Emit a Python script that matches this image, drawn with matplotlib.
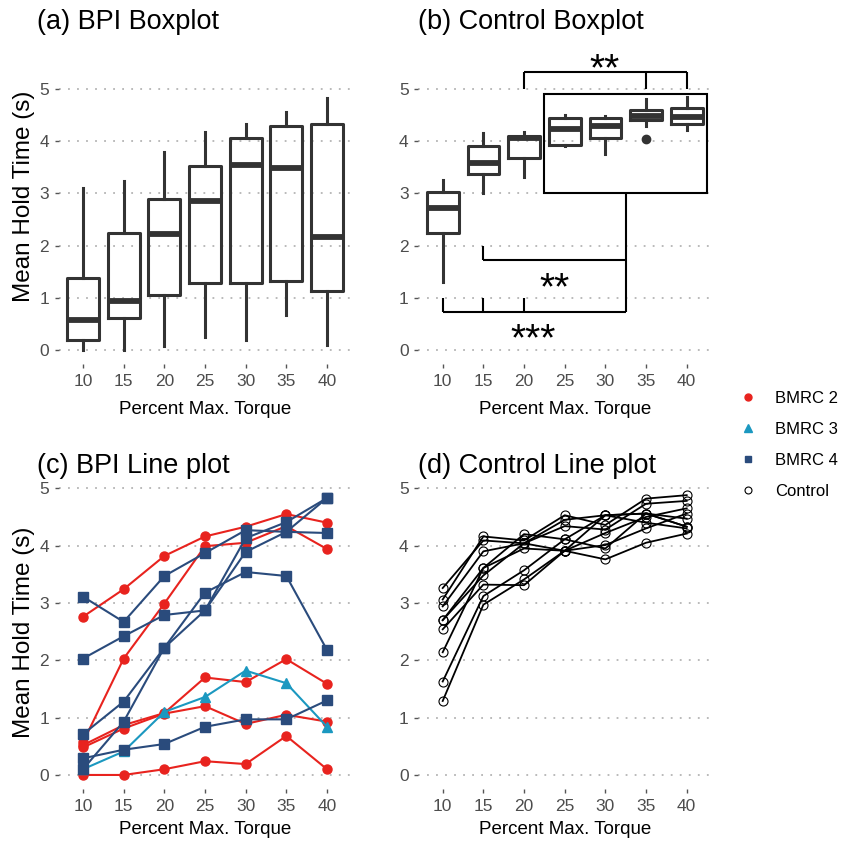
import matplotlib
matplotlib.use("Agg")
import matplotlib.pyplot as plt
from matplotlib.lines import Line2D
from matplotlib.patches import Rectangle

plt.rcParams["font.family"] = ["Liberation Sans", "DejaVu Sans"]

W, H = 842, 841

torque = ["10", "15", "20", "25", "30", "35", "40"]

# boxplot summaries: low whisker, Q1, median, Q3, high whisker
bpi_whislo = [0.00, 0.00, 0.08, 0.24, 0.19, 0.67, 0.10]
bpi_q1 = [0.19, 0.62, 1.06, 1.28, 1.29, 1.33, 1.12]
bpi_med = [0.58, 0.93, 2.22, 2.85, 3.55, 3.48, 2.17]
bpi_q3 = [1.37, 2.24, 2.89, 3.52, 4.07, 4.30, 4.32]
bpi_whishi = [3.10, 3.23, 3.80, 4.17, 4.33, 4.55, 4.83]

ctl_whislo = [1.31, 3.00, 3.32, 3.90, 3.76, 4.30, 4.21]
ctl_q1 = [2.25, 3.37, 3.68, 3.92, 4.07, 4.40, 4.32]
ctl_med = [2.71, 3.59, 4.06, 4.23, 4.29, 4.49, 4.47]
ctl_q3 = [3.03, 3.91, 4.09, 4.44, 4.44, 4.59, 4.64]
ctl_whishi = [3.26, 4.15, 4.17, 4.50, 4.49, 4.80, 4.85]
ctl_fliers = [[], [], [], [], [], [4.05], []]

# individual BPI subjects
bmrc2 = [
    [2.76, 3.24, 3.82, 4.16, 4.33, 4.55, 4.40],
    [0.57, 2.03, 2.99, 3.99, 4.05, 4.34, 3.94],
    [0.52, 0.87, 1.08, 1.70, 1.62, 2.02, 1.59],
    [0.48, 0.81, 1.07, 1.20, 0.89, 1.05, 0.93],
    [0.00, 0.00, 0.10, 0.24, 0.19, 0.68, 0.10],
]
bmrc3 = [
    [0.10, 0.41, 1.10, 1.36, 1.82, 1.60, 0.84],
]
bmrc4 = [
    [3.11, 2.67, 3.47, 3.87, 4.27, 4.24, 4.22],
    [2.03, 2.42, 2.79, 2.87, 3.89, 4.24, 4.83],
    [0.71, 1.28, 2.22, 3.18, 3.54, 3.47, 2.18],
    [0.10, 0.93, 2.22, 2.87, 4.13, 4.41, 4.83],
    [0.29, 0.44, 0.54, 0.84, 0.97, 0.97, 1.30],
]
control = [
    [3.26, 4.09, 4.04, 4.45, 4.53, 4.56, 4.33],
    [3.06, 4.16, 4.09, 4.53, 4.36, 4.82, 4.88],
    [2.94, 3.90, 4.04, 4.34, 4.28, 4.73, 4.78],
    [2.70, 3.61, 4.20, 4.11, 4.53, 4.56, 4.33],
    [2.70, 3.48, 4.04, 3.91, 4.22, 4.50, 4.65],
    [2.54, 3.32, 3.31, 3.91, 4.53, 4.40, 4.30],
    [2.14, 3.61, 3.95, 3.91, 4.01, 4.30, 4.56],
    [1.63, 3.12, 3.57, 4.11, 3.95, 4.56, 4.47],
    [1.29, 2.97, 3.41, 3.91, 3.76, 4.05, 4.21],
]

# significance brackets in panel (b): category index of each leg and y levels
sig_top_y, sig_top_drop = 5.32, 5.0
sig_top_legs = [2, 5, 6]
sig_mid_y, sig_mid_drop = 1.73, 2.0
sig_mid_legs = [1]
sig_low_y, sig_low_drop = 0.72, 1.0
sig_low_legs = [0, 1, 2]
sig_join_x = 4.5
inset_x = (2.5, 6.5)
inset_y = (3.0, 4.9)
sig_labels = ["**", "**", "***"]
sig_label_x = [3.98, 2.74, 2.23]
sig_label_y = [5.36, 1.16, 0.18]

RED = "#e8231e"
TEAL = "#1b98c0"
NAVY = "#2a4b7c"
DARK = "#333333"


def add_axes(left, right, top, bottom):
    return fig.add_axes([left / W, 1 - bottom / H, (right - left) / W, (bottom - top) / H])


def style(ax, ylim, ylabel):
    ax.set_xlim(-0.6, 6.6)
    ax.set_ylim(*ylim)
    ax.set_xticks(range(len(torque)))
    ax.set_xticklabels(torque)
    ax.set_yticks(range(6))
    for spine in ax.spines.values():
        spine.set_visible(False)
    ax.grid(axis="y", color="#b4b4b4", linestyle=(0, (1, 4)), linewidth=1.3)
    ax.set_axisbelow(True)
    ax.tick_params(length=3, width=1, color="#555555", labelsize=12.5, labelcolor="#4d4d4d", pad=4)
    ax.set_xlabel("Percent Max. Torque", fontsize=13.5, color="black")
    if ylabel:
        ax.set_ylabel("Mean Hold Time (s)", fontsize=17.5, color="black")


def boxes(ax, lo, q1, med, q3, hi, fliers):
    stats = [
        {"whislo": lo[i], "q1": q1[i], "med": med[i], "q3": q3[i], "whishi": hi[i], "fliers": fliers[i]}
        for i in range(len(lo))
    ]
    ax.bxp(
        stats,
        positions=range(len(stats)),
        widths=0.78,
        showcaps=False,
        boxprops={"color": DARK, "linewidth": 2.2},
        whiskerprops={"color": DARK, "linewidth": 2.2},
        medianprops={"color": DARK, "linewidth": 4.2, "solid_capstyle": "butt"},
        flierprops={"marker": "o", "markerfacecolor": DARK, "markeredgecolor": DARK, "markersize": 6},
        manage_ticks=False,
    )


fig = plt.figure(figsize=(W / 100, H / 100), dpi=100)

ax_a = add_axes(58.6, 351.4, 48.3, 364)
ax_b = add_axes(418.3, 711.1, 48.3, 364)
ax_c = add_axes(58.6, 351.4, 481.4, 789.3)
ax_d = add_axes(418.3, 711.1, 481.4, 789.3)

box_ylim = (-0.27, 5.78)
line_ylim = (-0.25, 5.12)

# (a)
boxes(ax_a, bpi_whislo, bpi_q1, bpi_med, bpi_q3, bpi_whishi, [[]] * 7)
style(ax_a, box_ylim, True)

# (b)
boxes(ax_b, ctl_whislo, ctl_q1, ctl_med, ctl_q3, ctl_whishi, ctl_fliers)
style(ax_b, box_ylim, False)
k = {"color": "black", "linewidth": 1.5, "solid_capstyle": "butt"}
ax_b.add_patch(Rectangle((inset_x[0], inset_y[0]), inset_x[1] - inset_x[0], inset_y[1] - inset_y[0],
                         fill=False, edgecolor="black", linewidth=1.5))
ax_b.plot([sig_top_legs[0], sig_top_legs[-1]], [sig_top_y, sig_top_y], **k)
for x in sig_top_legs:
    ax_b.plot([x, x], [sig_top_y, sig_top_drop], **k)
ax_b.plot([sig_join_x, sig_join_x], [inset_y[0], sig_low_y], **k)
ax_b.plot([sig_mid_legs[0], sig_join_x], [sig_mid_y, sig_mid_y], **k)
for x in sig_mid_legs:
    ax_b.plot([x, x], [sig_mid_y, sig_mid_drop], **k)
ax_b.plot([sig_low_legs[0], sig_join_x], [sig_low_y, sig_low_y], **k)
for x in sig_low_legs:
    ax_b.plot([x, x], [sig_low_y, sig_low_drop], **k)
for label, x, y in zip(sig_labels, sig_label_x, sig_label_y):
    ax_b.text(x, y, label, fontsize=28, ha="center", va="center")

# (c)
x_idx = range(len(torque))
for group, color, marker, ms in [(bmrc2, RED, "o", 6.5), (bmrc3, TEAL, "^", 7), (bmrc4, NAVY, "s", 6.5)]:
    for series in group:
        ax_c.plot(x_idx, series, color=color, marker=marker, markersize=ms, linewidth=1.5)
style(ax_c, line_ylim, True)

# (d)
for series in control:
    ax_d.plot(x_idx, series, color="black", marker="o", markersize=6.5, markerfacecolor="none",
              markeredgewidth=0.8, linewidth=1.3)
style(ax_d, line_ylim, False)

ax_a.yaxis.set_label_coords(-0.08, 0.53)
ax_c.yaxis.set_label_coords(-0.08, 0.51)
ax_a.xaxis.set_label_coords(0.5, -0.118)
ax_b.xaxis.set_label_coords(0.5, -0.118)
ax_c.xaxis.set_label_coords(0.5, -0.104)
ax_d.xaxis.set_label_coords(0.5, -0.104)

title_kw = {"fontsize": 19.5, "ha": "left", "va": "center"}
fig.text(37 / W, 1 - 22 / H, "(a) BPI Boxplot", **title_kw)
fig.text(418 / W, 1 - 22 / H, "(b) Control Boxplot", **title_kw)
fig.text(37 / W, 1 - 466 / H, "(c) BPI Line plot", **title_kw)
fig.text(418 / W, 1 - 466 / H, "(d) Control Line plot", **title_kw)

handles = [
    Line2D([], [], linestyle="none", marker="o", color=RED, markersize=5),
    Line2D([], [], linestyle="none", marker="^", color=TEAL, markersize=5.5),
    Line2D([], [], linestyle="none", marker="s", color=NAVY, markersize=5),
    Line2D([], [], linestyle="none", marker="o", markerfacecolor="none", markeredgecolor="black",
           markersize=5, markeredgewidth=0.8),
]
fig.legend(handles, ["BMRC 2", "BMRC 3", "BMRC 4", "Control"], loc="center left",
           bbox_to_anchor=(740 / W, 1 - 445 / H), frameon=False, fontsize=12,
           handlelength=1.0, handletextpad=1.1, labelspacing=0.95, borderpad=0, borderaxespad=0)

fig.savefig("out.png", dpi=100, facecolor="white")
